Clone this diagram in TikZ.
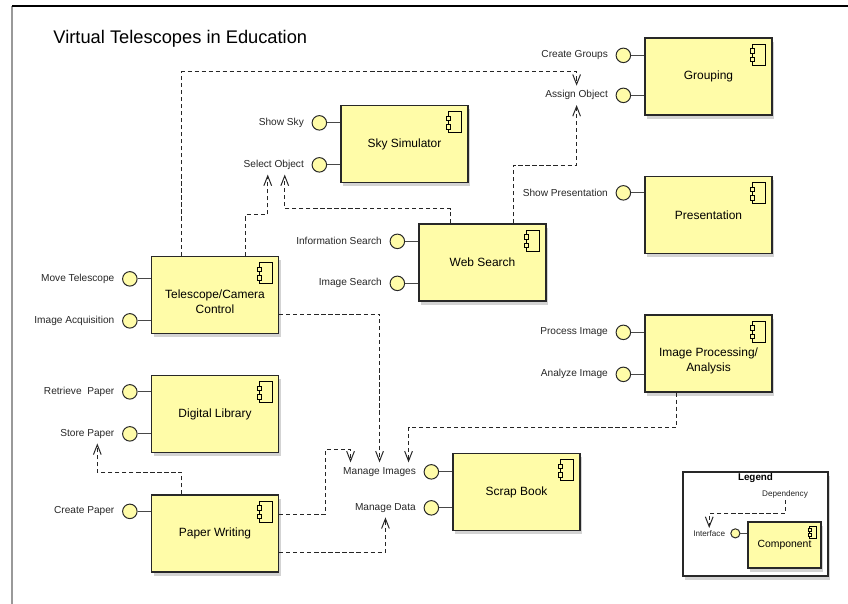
\documentclass[tikz,border=0pt]{standalone}
\usepackage{fontspec}
\setmainfont{Liberation Sans}
\usepackage{tikz}
\usepackage{xcolor}
\usetikzlibrary{arrows.meta, shadows, calc, positioning}

\definecolor{compfill}{RGB}{255,252,168}
\definecolor{compline}{RGB}{40,40,40}

\tikzset{
  comp/.style={draw=compline, fill=compfill, line width=0.9pt, minimum width=3.175cm, minimum height=1.925cm,
    inner sep=0pt, align=center, font=\fontsize{8.5}{10.5}\selectfont,
    drop shadow={shadow xshift=1.5pt, shadow yshift=-2.5pt, opacity=0.35}},
  ctext/.style={align=center, font=\fontsize{8.5}{10.5}\selectfont},
  iface/.style={circle, draw=compline, fill=compfill, line width=0.7pt, minimum size=10.3pt, inner sep=0pt},
  stick/.style={draw=compline!85, line width=0.8pt},
  ilabel/.style={font=\fontsize{7.2}{8.5}\selectfont, text=black!85},
  leglabel/.style={font=\fontsize{5.8}{7}\selectfont, text=black!85, inner sep=1.5pt},
  dep/.style={draw=black!85, line width=0.7pt, dash pattern=on 3pt off 2pt,
    -{Straight Barb[length=7pt,width=5.5pt,line width=0.7pt]}},
  icon/.style={draw=black, fill=compfill, line width=0.6pt}
}

\begin{document}
\begin{tikzpicture}[x=0.025cm, y=-0.025cm]
  \useasboundingbox (0,0) rectangle (848,604);
  % frame
  \draw[gray!80, line width=1.2pt] (12,6) -- (12,604);
  \draw[line width=0.8pt] (12,6) -- (848,6);
  \node[font=\fontsize{13}{15}\selectfont, anchor=west] (title) at (48.5,39) {Virtual Telescopes in Education};

  % components
  \node[comp] (sky) at (404.5,144) {Sky Simulator};
  \node[comp] (grp) at (708.5,76.5) {Grouping};
  \node[comp] (pres) at (708.5,215) {Presentation};
  \node[comp] (web) at (482.5,262.5) {Web Search};
  \node[comp, label={[ctext, yshift=-5pt]center:Telescope/Camera\\Control}] (tel) at (215,295) {};
  \node[comp] (lib) at (215,414) {Digital Library};
  \node[comp] (pap) at (215,533.5) {Paper Writing};
  \node[comp, label={[ctext, yshift=-5pt]center:Image Processing/\\Analysis}] (ipa) at (708.5,353.5) {};
  \node[comp] (scr) at (516.5,492) {Scrap Book};

  \foreach \c in {sky,grp,pres,web,tel,lib,pap,ipa,scr} {
    \draw[icon] ($(\c.north east)+(-20,7)$) rectangle ++(13,21);
    \draw[icon] ($(\c.north east)+(-22.2,11.3)$) rectangle ++(4.4,4.4);
    \draw[icon] ($(\c.north east)+(-22.2,20)$) rectangle ++(4.4,4.4);
  }

  % interfaces
  \foreach \n/\b/\dy/\t in {cg/grp/18/Create Groups, ao/grp/58/Assign Object,
      ss/sky/18/Show Sky, so/sky/60/Select Object, sp/pres/17/Show Presentation,
      is/web/18/Information Search, ims/web/60/Image Search,
      mt/tel/23/Move Telescope, ia/tel/65/Image Acquisition,
      rp/lib/17/Retrieve~~Paper, stp/lib/59/Store Paper, cp/pap/17/Create Paper,
      pi/ipa/18/Process Image, ai/ipa/60/Analyze Image,
      mi/scr/19/Manage Images, md/scr/55/Manage Data} {
    \node[iface] (\n) at ($(\b.north west)+(-21,\dy)$) {};
    \draw[stick] (\n) -- (\n -| \b.west);
    \node[ilabel, left=2pt of \n] (lbl-\n) {\t};
  }

  % dependencies
  \draw[dep] ($(tel.north west)+(31,0)$) |- ($(lbl-ao.north)+(0,-14)$) -- (lbl-ao.north);
  \draw[dep] ($(tel.north west)+(95,0)$) |- ($(lbl-so.south)+(-6,40)$) -- ($(lbl-so.south)+(-6,0)$);
  \draw[dep] ($(web.north west)+(32,0)$) |- ($(lbl-so.south)+(11,34)$) -- ($(lbl-so.south)+(11,0)$);
  \draw[dep] ($(web.north west)+(95,0)$) |- ($(lbl-ao.south)+(0,60)$) -- (lbl-ao.south);
  \draw[dep] ($(tel.east)+(0,19)$) -| (lbl-mi.north);
  \draw[dep] ($(ipa.south west)+(32,0)$) |- ($(lbl-mi.north)+(29,-35)$) -- ($(lbl-mi.north)+(29,0)$);
  \draw[dep] ($(pap.east)+(0,-19.5)$) -| ($(lbl-mi.north)+(-54,-13)$) -| ($(lbl-mi.north)+(-29,0)$);
  \draw[dep] ($(pap.east)+(0,18.5)$) -| (lbl-md.south);
  \draw[dep] ($(pap.north west)+(31,0)$) |- ($(lbl-stp.south)+(10,29)$) -- ($(lbl-stp.south)+(10,0)$);

  % legend
  \node[draw=compline, fill=white, line width=0.9pt, minimum width=3.625cm, minimum height=2.6cm, inner sep=0pt,
    drop shadow={shadow xshift=1.5pt, shadow yshift=-2.5pt, opacity=0.35}] (leg) at (755.5,524) {};
  \node[font=\bfseries\fontsize{7}{8}\selectfont, anchor=north, inner sep=1.5pt] (legT) at (leg.north) {Legend};
  \node[comp, minimum width=1.825cm, minimum height=1.15cm, font=\fontsize{7.4}{9}\selectfont,
    drop shadow={opacity=0}] (legc) at (784.5,545) {Component};
  \draw[icon] ($(legc.north east)+(-12,5)$) rectangle ++(7,12);
  \draw[icon] ($(legc.north east)+(-13.3,7.5)$) rectangle ++(2.6,2.6);
  \draw[icon] ($(legc.north east)+(-13.3,12)$) rectangle ++(2.6,2.6);
  \node[iface, minimum size=6.5pt] (lint) at ($(legc.north west)+(-12,12)$) {};
  \draw[stick] (lint) -- (lint -| legc.west);
  \node[leglabel, left=2pt of lint] (lbl-int) {Interface};
  \node[leglabel] (lbl-dep) at (785,494) {Dependency};
  \draw[dep] (lbl-dep.south) |- ($(lbl-int.north)+(0,-14)$) -- (lbl-int.north);
\end{tikzpicture}
\end{document}
